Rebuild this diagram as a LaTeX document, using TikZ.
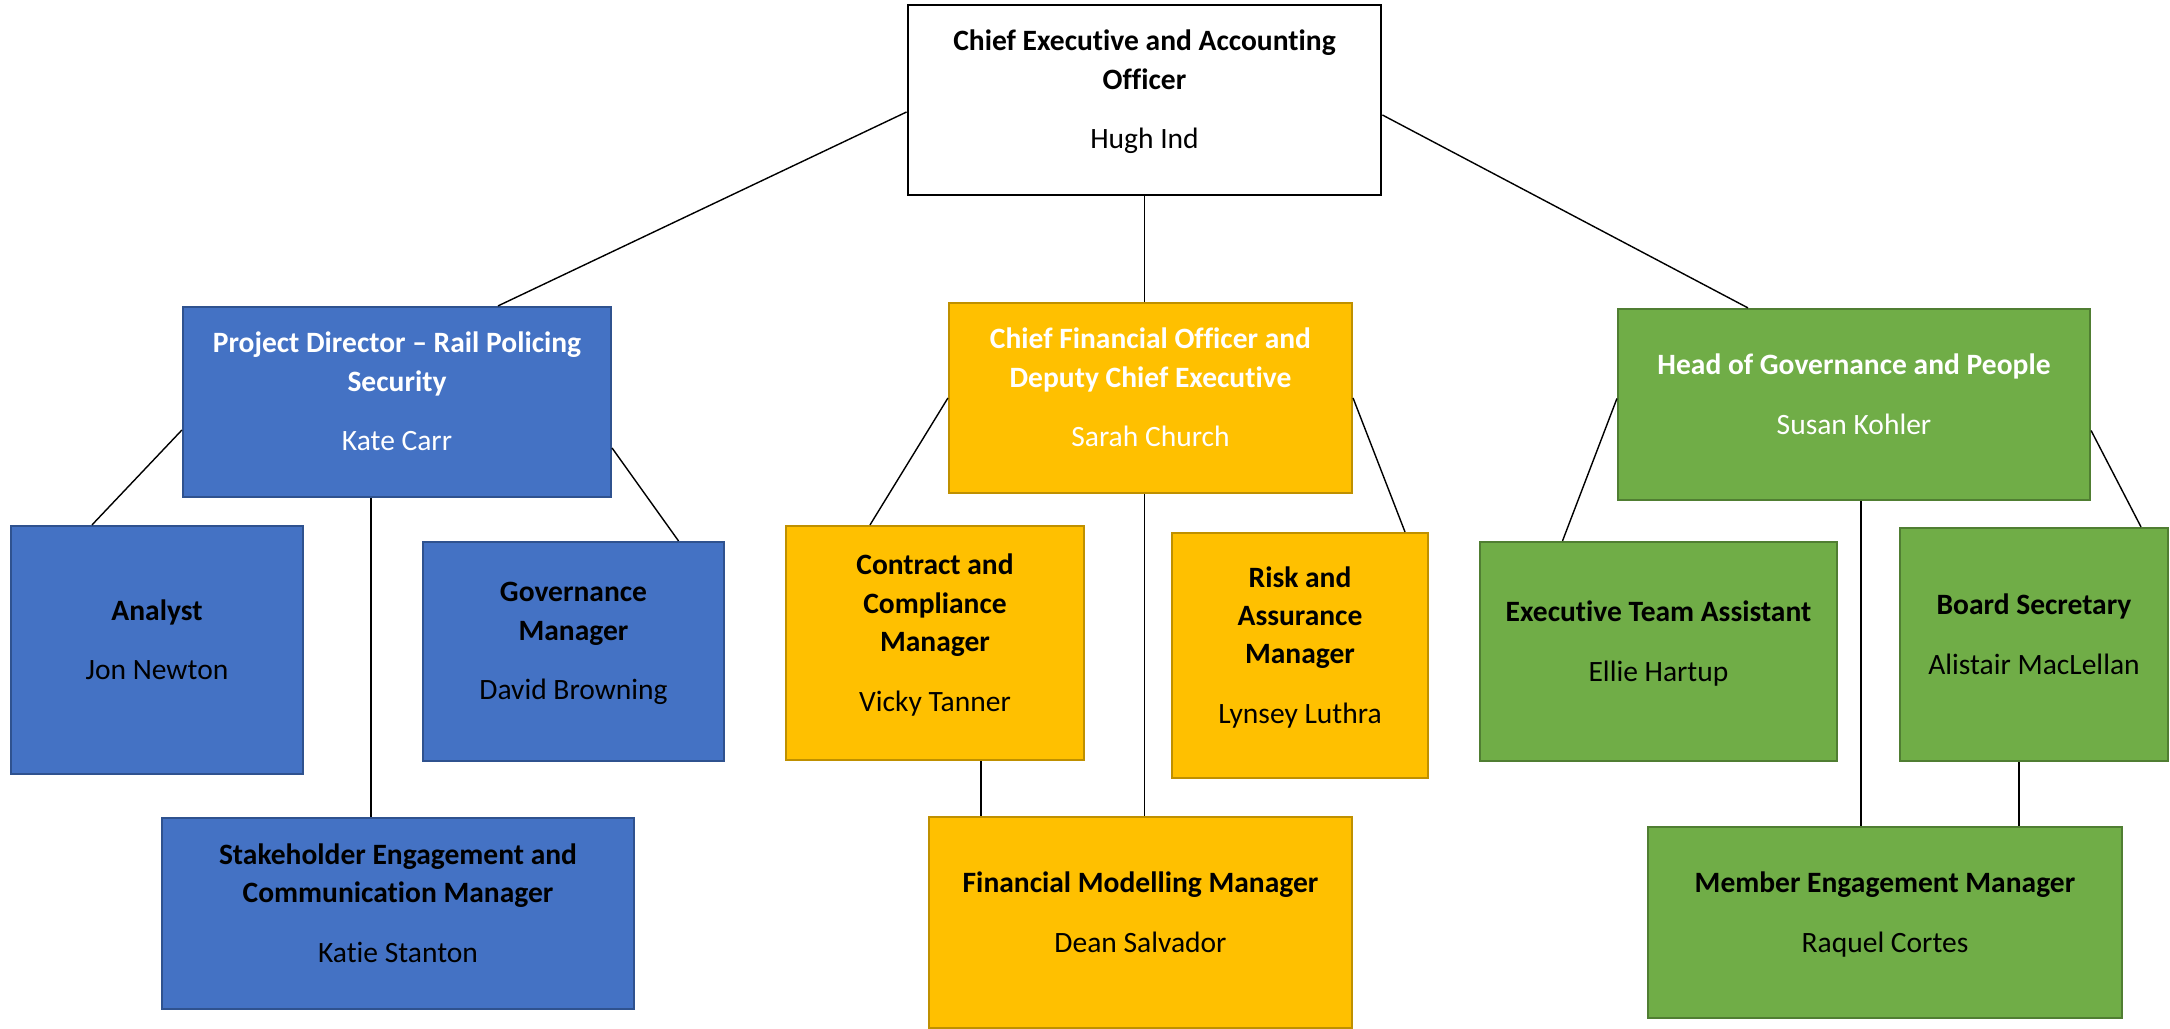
\documentclass[tikz,border=0pt]{standalone}
\usepackage{fontspec}
\setmainfont{Carlito}[Ligatures=NoCommon]
\usepackage{tikz}

\definecolor{railblue}{HTML}{4472C4}
\definecolor{railedge}{HTML}{2F528F}
\definecolor{fingold}{HTML}{FFC000}
\definecolor{finedge}{HTML}{BF9000}
\definecolor{pplgreen}{HTML}{70AD47}
\definecolor{ppledge}{HTML}{507E32}

\begin{document}
\begin{tikzpicture}[
    box/.style={draw, line width=0.6pt, align=center, inner sep=2pt,
      font=\fontsize{8.4}{10.95}\selectfont\bfseries,
      execute at end node={\rule[-6pt]{0pt}{0pt}}},
    rail/.style={box, fill=railblue, draw=railedge},
    finance/.style={box, fill=fingold, draw=finedge},
    people/.style={box, fill=pplgreen, draw=ppledge},
    lead/.style={text=white},
    link/.style={line width=0.4pt}
  ]
  \useasboundingbox (0,0) rectangle (21.70,-10.29);

  % chief executive
  \node[box, line width=0.8pt, minimum width=4.73cm, minimum height=1.90cm] (ceo) at (11.445,-1.00)
    {Chief Executive and Accounting\\Officer\\[6pt]\mdseries Hugh Ind};

  % rail policing security
  \node[rail, lead, minimum width=4.28cm, minimum height=1.90cm] (pd) at (3.97,-4.02)
    {Project Director – Rail Policing\\Security\\[6pt]\mdseries Kate Carr};
  \node[rail, minimum width=2.92cm, minimum height=2.48cm] (an) at (1.57,-6.50)
    {Analyst\\[6pt]\mdseries Jon Newton};
  \node[rail, minimum width=3.01cm, minimum height=2.19cm] (gm) at (5.735,-6.515)
    {Governance\\Manager\\[6pt]\mdseries David Browning};
  \node[rail, minimum width=4.72cm, minimum height=1.91cm] (sec) at (3.98,-9.135)
    {Stakeholder Engagement and\\Communication Manager\\[6pt]\mdseries Katie Stanton};

  % finance
  \node[finance, lead, minimum width=4.03cm, minimum height=1.90cm] (cfo) at (11.505,-3.98)
    {Chief Financial Officer and\\Deputy Chief Executive\\[6pt]\mdseries Sarah Church};
  \node[finance, minimum width=2.98cm, minimum height=2.34cm] (ccm) at (9.35,-6.43)
    {Contract and\\Compliance\\Manager\\[6pt]\mdseries Vicky Tanner};
  \node[finance, minimum width=2.56cm, minimum height=2.45cm] (ram) at (13.00,-6.555)
    {Risk and\\Assurance\\Manager\\[6pt]\mdseries Lynsey Luthra};
  \node[finance, minimum width=4.23cm, minimum height=2.11cm] (fmm) at (11.405,-9.225)
    {Financial Modelling Manager\\[6pt]\mdseries Dean Salvador};

  % governance and people
  \node[people, lead, minimum width=4.72cm, minimum height=1.91cm] (hgp) at (18.54,-4.045)
    {Head of Governance and People\\[6pt]\mdseries Susan Kohler};
  \node[people, minimum width=3.57cm, minimum height=2.19cm] (eta) at (16.585,-6.515)
    {Executive Team Assistant\\[6pt]\mdseries Ellie Hartup};
  \node[people, minimum width=2.68cm, minimum height=2.33cm] (bs) at (20.34,-6.445)
    {Board Secretary\\[6pt]\mdseries Alistair MacLellan};
  \node[people, minimum width=4.74cm, minimum height=1.91cm] (mem) at (18.85,-9.225)
    {Member Engagement Manager\\[6pt]\mdseries Raquel Cortes};

  % reporting lines
  \draw[link] ([yshift=-1.2mm]ceo.west) -- ([xshift=10.1mm]pd.north);
  \draw[link] (ceo.south) -- (ceo.south |- cfo.north);
  \draw[link] ([yshift=-1.5mm]ceo.east) -- ([xshift=-10.6mm]hgp.north);

  \draw[link] ([yshift=-2.8mm]pd.west) -- ([xshift=-6.5mm]an.north);
  \draw[link] ([yshift=-4.6mm]pd.east) -- ([xshift=10.5mm]gm.north);
  \draw[link] ([xshift=-2.6mm]pd.south) coordinate (pdsec) -- (pdsec |- sec.north);

  \draw[link] (cfo.west) -- ([xshift=-6.5mm]ccm.north);
  \draw[link] (cfo.east) -- ([xshift=10.5mm]ram.north);
  \draw[link] ([xshift=-0.6mm]cfo.south) coordinate (cfofmm) -- (cfofmm |- fmm.north);
  \draw[link] ([xshift=4.6mm]ccm.south) coordinate (ccmfmm) -- (ccmfmm |- fmm.north);

  \draw[link] ([yshift=0.6mm]hgp.west) -- ([xshift=-9.6mm]eta.north);
  \draw[link] ([yshift=-2.6mm]hgp.east) -- ([xshift=10.7mm]bs.north);
  \draw[link] ([xshift=0.7mm]hgp.south) coordinate (hgpmem) -- (hgpmem |- mem.north);
  \draw[link] ([xshift=-1.5mm]bs.south) coordinate (bsmem) -- (bsmem |- mem.north);
\end{tikzpicture}
\end{document}
